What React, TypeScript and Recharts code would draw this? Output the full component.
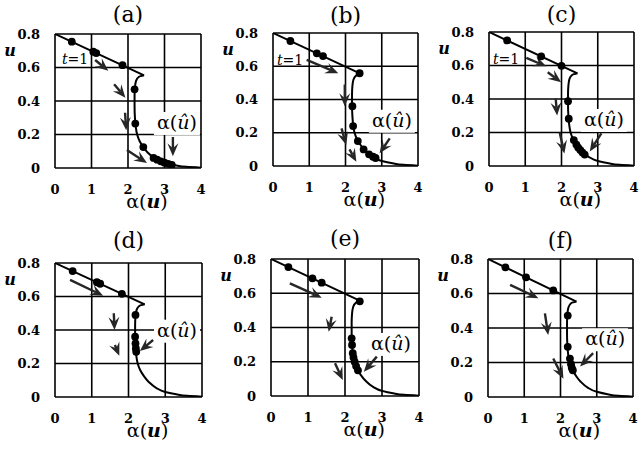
import React from 'react';
import { ComposedChart, Line, Scatter, XAxis, YAxis, CartesianGrid, ReferenceLine, ReferenceDot } from 'recharts';

const xTicks = [0, 1, 2, 3, 4];
const uTicks = [0, 0.2, 0.4, 0.6, 0.8];
const titles = ['(a)', '(b)', '(c)', '(d)', '(e)', '(f)'];

// the curve u vs alpha(u): straight upper branch, folded lower branch (bottom to top)
const upperX = [0, 2.44];
const upperU = [0.8, 0.553];
const lowerX = [4.0, 3.6, 3.3, 3.0, 2.75, 2.55, 2.42, 2.32, 2.25, 2.21, 2.19, 2.18, 2.18, 2.19, 2.22, 2.3, 2.44];
const lowerU = [0.002, 0.007, 0.016, 0.03, 0.055, 0.09, 0.125, 0.16, 0.2, 0.25, 0.3, 0.37, 0.43, 0.48, 0.52, 0.545, 0.553];

// iterates shown as dots, one list per panel
const dotX = [
  [0.46, 1.05, 1.13, 1.85, 2.18, 2.2, 2.42, 2.7, 2.8, 2.9, 3.0, 3.1, 3.2],
  [0.48, 1.21, 1.38, 2.39, 2.19, 2.21, 2.34, 2.5, 2.65, 2.76, 2.83],
  [0.5, 1.44, 2.0, 2.18, 2.2, 2.34, 2.41, 2.46, 2.52, 2.58, 2.64],
  [0.48, 1.14, 1.23, 1.82, 2.19, 2.18, 2.19, 2.2, 2.21],
  [0.47, 1.12, 1.37, 2.4, 2.18, 2.19, 2.21, 2.23, 2.26, 2.3, 2.35],
  [0.48, 1.05, 1.8, 2.2, 2.2, 2.26, 2.29, 2.31, 2.34],
];
const dotU = [
  [0.754, 0.694, 0.686, 0.614, 0.47, 0.265, 0.125, 0.06, 0.05, 0.04, 0.032, 0.025, 0.018],
  [0.752, 0.678, 0.661, 0.558, 0.36, 0.24, 0.15, 0.1, 0.07, 0.056, 0.048],
  [0.75, 0.655, 0.598, 0.387, 0.282, 0.155, 0.128, 0.11, 0.095, 0.08, 0.068],
  [0.752, 0.685, 0.676, 0.616, 0.49, 0.36, 0.32, 0.29, 0.27],
  [0.753, 0.687, 0.662, 0.553, 0.337, 0.298, 0.25, 0.225, 0.2, 0.175, 0.15],
  [0.752, 0.694, 0.618, 0.472, 0.291, 0.223, 0.19, 0.17, 0.155],
];

// arrows [x1, u1, x2, u2], tail to tip
const arrows = [
  [[1.1, 0.645, 1.46, 0.58], [1.62, 0.5, 1.93, 0.42], [1.92, 0.33, 1.95, 0.225], [1.97, 0.107, 2.52, 0.03], [3.23, 0.185, 3.23, 0.07]],
  [[0.93, 0.638, 1.8, 0.558], [1.98, 0.49, 1.98, 0.36], [1.89, 0.226, 2.02, 0.126], [2.11, 0.1, 2.3, 0.026], [3.22, 0.166, 2.94, 0.076]],
  [[1.03, 0.645, 1.58, 0.595], [1.62, 0.56, 1.99, 0.5], [1.84, 0.402, 1.88, 0.302], [1.95, 0.2, 2.08, 0.075], [3.1, 0.195, 2.78, 0.087]],
  [[0.41, 0.699, 1.31, 0.605], [1.6, 0.5, 1.62, 0.4], [1.63, 0.31, 1.75, 0.247], [2.67, 0.34, 2.31, 0.275]],
  [[0.51, 0.658, 1.37, 0.574], [1.64, 0.463, 1.56, 0.375], [1.73, 0.191, 1.94, 0.093], [2.86, 0.23, 2.51, 0.142]],
  [[0.61, 0.65, 1.39, 0.573], [1.57, 0.485, 1.66, 0.359], [1.8, 0.223, 2.08, 0.106], [2.9, 0.254, 2.54, 0.177]],
];

// "t=1" label anchors (null where absent) and alpha(u-hat) label anchors
const tLabel = [[0.55, 0.62], [0.47, 0.608], [0.47, 0.606], null, null, null];
const hatLabel = [[3.34, 0.233], [3.28, 0.236], [3.17, 0.239], [3.32, 0.36], [3.24, 0.269], [3.23, 0.3]];

// plot rectangles on the page
const layout = [
  { px: 55, py: 34, pw: 146, ph: 134, titleDy: -12 },
  { px: 273, py: 33, pw: 145, ph: 133, titleDy: -10 },
  { px: 489, py: 32, pw: 145, ph: 134, titleDy: -10 },
  { px: 55, py: 263, pw: 147, ph: 134, titleDy: -15 },
  { px: 271, py: 259, pw: 148, ph: 137, titleDy: -13 },
  { px: 488, py: 259, pw: 145, ph: 138, titleDy: -11 },
];

const FONT = 'DejaVu Serif';
const ARROW = '#262626';
const TOP = 38;

const upperData = upperX.map((x, i) => ({ x, u: upperU[i] }));
const lowerData = lowerX.map((x, i) => ({ x, u: lowerU[i] }));

function ArrowShape(props: any) {
  const { x1, y1, x2, y2 } = props;
  const dx = x2 - x1;
  const dy = y2 - y1;
  const len = Math.hypot(dx, dy) || 1;
  const ux = dx / len;
  const uy = dy / len;
  const nx = -uy;
  const ny = ux;
  const head = 13;
  const half = 5.5;
  const notch = 8;
  const bx = x2 - ux * head;
  const by = y2 - uy * head;
  const mx = x2 - ux * notch;
  const my = y2 - uy * notch;
  return (
    <g>
      <line x1={x1} y1={y1} x2={mx} y2={my} stroke={ARROW} strokeWidth={2.4} />
      <polygon
        points={`${x2},${y2} ${bx + nx * half},${by + ny * half} ${mx},${my} ${bx - nx * half},${by - ny * half}`}
        fill={ARROW}
      />
    </g>
  );
}

const tickStyle = { fill: '#000', fontSize: 13, fontWeight: 'bold', fontFamily: FONT };

function Panel({ i }: { i: number }) {
  const box = layout[i];
  const dots = dotX[i].map((x, k) => ({ x, u: dotU[i][k] }));
  const t = tLabel[i];
  const h = hatLabel[i];
  return (
    <div style={{ position: 'absolute', left: box.px - 55, top: box.py - TOP }}>
      <ComposedChart
        width={box.pw + 61}
        height={box.ph + TOP + 50}
        margin={{ top: TOP, right: 6, bottom: 0, left: 0 }}
      >
        <CartesianGrid stroke="#000" strokeWidth={1.6} />
        <XAxis
          dataKey="x"
          type="number"
          domain={[0, 4]}
          ticks={xTicks}
          interval={0}
          allowDataOverflow
          axisLine={false}
          tickLine={false}
          tickSize={0}
          tickMargin={17}
          height={50}
          tick={tickStyle}
          label={{
            content: ({ viewBox }: any) => (
              <text x={viewBox.x + viewBox.width * 0.63} y={viewBox.y + 40} textAnchor="middle" fontSize={19} fontFamily={FONT} fill="#000">
                α(<tspan fontStyle="italic" fontWeight="bold">u</tspan>)
              </text>
            ),
          }}
        />
        <YAxis
          dataKey="u"
          type="number"
          domain={[0, 0.8]}
          ticks={uTicks}
          interval={0}
          allowDataOverflow
          axisLine={false}
          tickLine={false}
          tickSize={0}
          tickMargin={15}
          width={55}
          tick={tickStyle}
          label={{
            content: ({ viewBox }: any) => (
              <text x={viewBox.x + viewBox.width - 45} y={viewBox.y + 22} textAnchor="middle" fontSize={16} fontFamily={FONT} fontStyle="italic" fontWeight="bold" fill="#000">
                u
              </text>
            ),
          }}
        />
        <Line data={upperData} dataKey="u" type="linear" stroke="#000" strokeWidth={2} dot={false} isAnimationActive={false} />
        <Line data={lowerData} dataKey="u" type="monotoneY" stroke="#000" strokeWidth={2} dot={false} isAnimationActive={false} />
        <Scatter
          data={dots}
          dataKey="u"
          isAnimationActive={false}
          shape={(p: any) => <circle cx={p.cx} cy={p.cy} r={3.9} fill="#000" />}
        />
        {arrows[i].map((a, k) => (
          <ReferenceLine
            key={k}
            segment={[{ x: a[0], y: a[1] }, { x: a[2], y: a[3] }]}
            shape={ArrowShape}
          />
        ))}
        {t && (
          <ReferenceDot
            x={t[0]}
            y={t[1]}
            shape={(p: any) => (
              <text x={p.cx} y={p.cy} textAnchor="middle" fontSize={14} fontFamily={FONT} fill="#000">
                <tspan fontStyle="italic">t</tspan>=1
              </text>
            )}
          />
        )}
        <ReferenceDot
          x={h[0]}
          y={h[1]}
          shape={(p: any) => (
            <g>
              <rect x={p.cx - 23} y={p.cy - 17} width={46} height={23} fill="#fff" />
              <text x={p.cx} y={p.cy} textAnchor="middle" fontSize={19} fontFamily={FONT} fill="#000">
                α(<tspan fontStyle="italic">û</tspan>)
              </text>
            </g>
          )}
        />
        <ReferenceDot
          x={2}
          y={0.8}
          shape={(p: any) => (
            <text x={p.cx} y={p.cy + box.titleDy} textAnchor="middle" fontSize={22} fontFamily={FONT} fill="#000">
              {titles[i]}
            </text>
          )}
        />
      </ComposedChart>
    </div>
  );
}

export default function App() {
  return (
    <div style={{ position: 'absolute', left: 0, top: 0, width: 640, height: 451 }}>
      {layout.map((_, i) => (
        <Panel key={i} i={i} />
      ))}
    </div>
  );
}
